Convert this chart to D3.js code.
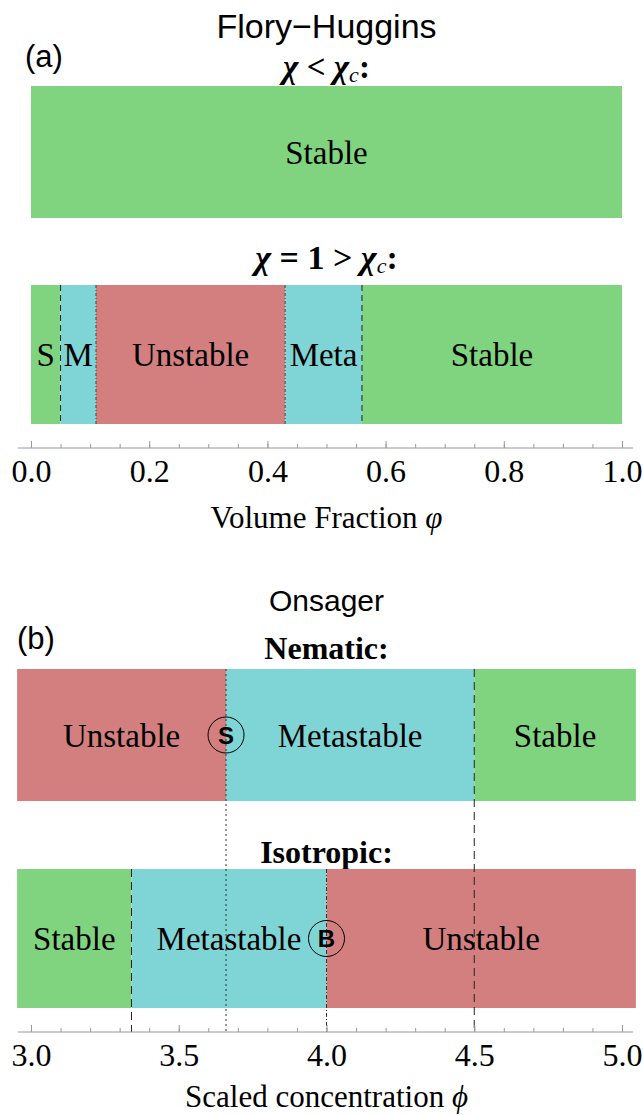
<!DOCTYPE html>
<html>
<head>
<meta charset="utf-8">
<script src="https://cdn.jsdelivr.net/npm/d3@7"></script>
<style>
  body { margin: 0; background: #fff; }
  svg { display: block; }
  .serif { font-family: "Liberation Serif", "DejaVu Serif", serif; }
  .sans { font-family: "Liberation Sans", Arial, sans-serif; }
</style>
</head>
<body>
<div id="chart"></div>
<script>
// ---- data ----
// Flory-Huggins, chi < chi_c
var fhLowLabels = ["Stable"];
var fhLowPhases = ["stable"];
var fhLowEdges = [0, 1];

// Flory-Huggins, chi = 1 > chi_c
var fhHighLabels = ["S", "M", "Unstable", "Meta", "Stable"];
var fhHighPhases = ["stable", "meta", "unstable", "meta", "stable"];
var fhHighEdges = [0, 0.05, 0.11, 0.43, 0.56, 1.0];
var fhBinodal = [0.05, 0.56];
var fhSpinodal = [0.11, 0.43];
var phiTicks = [0, 0.2, 0.4, 0.6, 0.8, 1.0];
var phiMinorStep = 0.05;
var phiAxisExtent = [-0.022, 1.019];

// Onsager
var nemLabels = ["Unstable", "Metastable", "Stable"];
var nemPhases = ["unstable", "meta", "stable"];
var nemEdges = [2.953, 3.66, 4.5, 5.047];
var isoLabels = ["Stable", "Metastable", "Unstable"];
var isoPhases = ["stable", "meta", "unstable"];
var isoEdges = [2.953, 3.34, 4.0, 5.047];
var onsTicks = [3.0, 3.5, 4.0, 4.5, 5.0];
var onsMinorStep = 0.1;
var onsAxisExtent = [2.956, 5.037];
var markers = [{ letter: "S", x: 3.66, bar: "nem" }, { letter: "B", x: 4.0, bar: "iso" }];

var phaseColor = { stable: "#80d47f", meta: "#7fd5d5", unstable: "#d47f7f" };

// ---- layout ----
var svgWidth = 643, svgHeight = 1115;
var svg = d3.select("#chart").append("svg")
  .attr("width", svgWidth)
  .attr("height", svgHeight);

var xA = d3.scaleLinear().domain([0, 1]).range([31, 622]);
var xB = d3.scaleLinear().domain([3, 5]).range([31, 622]);

function segments(edges, labels, phases) {
  return labels.map(function(l, i) {
    return { from: edges[i], to: edges[i + 1], label: l, phase: phases[i] };
  });
}

function drawBar(x, y0, h, segs, fontSize) {
  var g = svg.append("g");
  g.selectAll("rect")
    .data(segs)
    .enter()
    .append("rect")
    .attr("x", d => x(d.from))
    .attr("y", y0)
    .attr("width", d => x(d.to) - x(d.from))
    .attr("height", h)
    .attr("fill", d => phaseColor[d.phase]);
  g.selectAll("text")
    .data(segs)
    .enter()
    .append("text")
    .attr("class", "serif")
    .attr("x", d => (x(d.from) + x(d.to)) / 2)
    .attr("y", y0 + h / 2)
    .attr("dy", "0.35em")
    .attr("text-anchor", "middle")
    .attr("font-size", fontSize)
    .text(d => d.label);
}

function vline(x, v, yTop, yBot, dash, color) {
  svg.append("line")
    .attr("x1", x(v)).attr("x2", x(v))
    .attr("y1", yTop).attr("y2", yBot)
    .attr("stroke", color || "#333")
    .attr("stroke-width", 1)
    .attr("stroke-dasharray", dash);
}

function drawAxis(x, y, ticks, minorStep, extent, title, titleY) {
  var g = svg.append("g").attr("transform", `translate(0, ${y})`);
  var d0 = x.domain()[0], d1 = x.domain()[1];
  var minor = d3.range(d0, d1 + minorStep / 2, minorStep);
  g.append("g")
    .call(d3.axisBottom(x).tickValues(minor).tickSize(-4).tickFormat(""))
    .call(s => s.select(".domain").remove())
    .selectAll("line").attr("stroke", "#999");
  var major = g.append("g")
    .call(d3.axisBottom(x).tickValues(ticks).tickSize(-7).tickPadding(11).tickFormat(d3.format(".1f")));
  major.select(".domain").remove();
  major.selectAll("line").attr("stroke", "#999");
  major.selectAll("text")
    .attr("class", "serif")
    .attr("font-size", 32)
    .attr("fill", "#000");
  g.append("line")
    .attr("x1", x(extent[0])).attr("x2", x(extent[1]))
    .attr("y1", 0).attr("y2", 0)
    .attr("stroke", "#999");
  svg.append("text")
    .attr("class", "serif")
    .attr("x", (x(d0) + x(d1)) / 2)
    .attr("y", titleY)
    .attr("text-anchor", "middle")
    .attr("font-size", 31)
    .html(title);
}

function header(txt, y, cls, size, x) {
  return svg.append("text")
    .attr("class", cls)
    .attr("x", x)
    .attr("y", y)
    .attr("text-anchor", "middle")
    .attr("font-size", size)
    .html(txt);
}

var midA = (xA(0) + xA(1)) / 2;

// ---- (a) Flory-Huggins ----
header("Flory\u2212Huggins", 38, "sans", 34, midA);
svg.append("text").attr("class", "sans").attr("x", 25).attr("y", 67)
  .attr("font-size", 31).text("(a)");
header('<tspan font-style="italic" font-weight="bold">\u03c7</tspan><tspan font-weight="bold"> &lt; </tspan>' +
  '<tspan font-style="italic" font-weight="bold">\u03c7</tspan><tspan font-style="italic" font-size="22" dy="4">c</tspan>' +
  '<tspan font-weight="bold" dy="-4">:</tspan>', 78, "serif", 33, midA);

drawBar(xA, 86, 132, segments(fhLowEdges, fhLowLabels, fhLowPhases), 33);

header('<tspan font-style="italic" font-weight="bold">\u03c7</tspan><tspan font-weight="bold"> = 1 &gt; </tspan>' +
  '<tspan font-style="italic" font-weight="bold">\u03c7</tspan><tspan font-style="italic" font-size="22" dy="4">c</tspan>' +
  '<tspan font-weight="bold" dy="-4">:</tspan>', 269, "serif", 34, midA);

drawBar(xA, 285, 139, segments(fhHighEdges, fhHighLabels, fhHighPhases), 33);
fhBinodal.forEach(v => vline(xA, v, 285, 424, "6,4", "#222"));
fhSpinodal.forEach(v => vline(xA, v, 285, 424, "3,2,1,2", "#444"));

drawAxis(xA, 448, phiTicks, phiMinorStep, phiAxisExtent,
  'Volume Fraction <tspan font-style="italic">\u03c6</tspan>', 528);

// ---- (b) Onsager ----
var midB = (xB(nemEdges[0]) + xB(nemEdges[nemEdges.length - 1])) / 2;
header("Onsager", 611, "sans", 30, midB);
svg.append("text").attr("class", "sans").attr("x", 17).attr("y", 649)
  .attr("font-size", 31).text("(b)");
header("Nematic:", 659, "serif", 32, midB).attr("font-weight", "bold");

var nemTop = 669, nemH = 132;
var isoTop = 869, isoH = 139;
drawBar(xB, nemTop, nemH, segments(nemEdges, nemLabels, nemPhases), 33);

header("Isotropic:", 863, "serif", 32, midB).attr("font-weight", "bold");
drawBar(xB, isoTop, isoH, segments(isoEdges, isoLabels, isoPhases), 33);

var axisYB = 1032;
vline(xB, nemEdges[1], nemTop, axisYB, "2,3");
vline(xB, nemEdges[2], nemTop, axisYB, "8,5", "#222");
vline(xB, isoEdges[1], isoTop, axisYB, "8,5", "#222");
vline(xB, isoEdges[2], isoTop, axisYB, "4,2,1,2");

// circled markers
var mk = svg.selectAll("g.marker")
  .data(markers)
  .enter()
  .append("g")
  .attr("class", "marker")
  .attr("transform", d => `translate(${xB(d.x)}, ${d.bar === "nem" ? nemTop + nemH / 2 : isoTop + isoH / 2})`);
mk.append("circle").attr("r", 18).attr("fill", "none").attr("stroke", "#000").attr("stroke-width", 1);
mk.append("text")
  .attr("class", "sans")
  .attr("text-anchor", "middle")
  .attr("dy", "0.36em")
  .attr("font-size", 24)
  .attr("font-weight", "bold")
  .text(d => d.letter);

drawAxis(xB, axisYB, onsTicks, onsMinorStep, onsAxisExtent,
  'Scaled concentration <tspan font-style="italic">\u03d5</tspan>', 1107);
</script>
</body>
</html>
